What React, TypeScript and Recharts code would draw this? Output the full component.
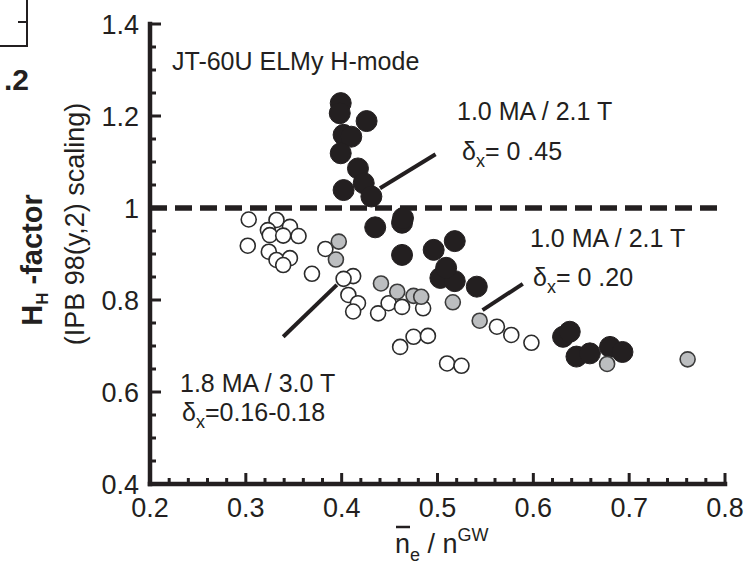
import { ScatterChart, Scatter, XAxis, YAxis, ReferenceLine } from 'recharts'

const ink = '#231f20'
const font = "'Liberation Sans', Arial, Helvetica, sans-serif"

// 1.0 MA / 2.1 T, delta_x = 0.45 (filled)
const blackDensity = [0.399, 0.398, 0.426, 0.402, 0.41, 0.399, 0.417, 0.402, 0.423, 0.431, 0.435, 0.463, 0.464, 0.463, 0.496, 0.518, 0.503, 0.518, 0.541, 0.509, 0.631, 0.638, 0.645, 0.659, 0.68, 0.693]
const blackHH = [1.228, 1.206, 1.189, 1.159, 1.155, 1.119, 1.086, 1.039, 1.054, 1.025, 0.958, 0.968, 0.978, 0.898, 0.909, 0.928, 0.848, 0.841, 0.829, 0.87, 0.72, 0.731, 0.677, 0.684, 0.698, 0.687]

// 1.0 MA / 2.1 T, delta_x = 0.20 (grey)
const greyDensity = [0.397, 0.394, 0.441, 0.458, 0.475, 0.483, 0.516, 0.544, 0.677, 0.761]
const greyHH = [0.927, 0.888, 0.836, 0.818, 0.809, 0.807, 0.795, 0.755, 0.661, 0.671]

// 1.8 MA / 3.0 T, delta_x = 0.16-0.18 (open)
const openDensity = [0.303, 0.332, 0.323, 0.346, 0.325, 0.339, 0.355, 0.302, 0.324, 0.332, 0.346, 0.339, 0.383, 0.369, 0.412, 0.402, 0.407, 0.417, 0.412, 0.438, 0.449, 0.463, 0.485, 0.461, 0.475, 0.49, 0.51, 0.525, 0.562, 0.577, 0.598]
const openHH = [0.975, 0.974, 0.952, 0.959, 0.941, 0.94, 0.939, 0.918, 0.905, 0.887, 0.891, 0.876, 0.911, 0.857, 0.852, 0.846, 0.811, 0.793, 0.775, 0.771, 0.793, 0.785, 0.782, 0.698, 0.72, 0.722, 0.662, 0.657, 0.742, 0.724, 0.707]

const xTicks = [0.2, 0.22, 0.24, 0.26, 0.28, 0.3, 0.32, 0.34, 0.36, 0.38, 0.4, 0.42, 0.44, 0.46, 0.48, 0.5, 0.52, 0.54, 0.56, 0.58, 0.6, 0.62, 0.64, 0.66, 0.68, 0.7, 0.72, 0.74, 0.76, 0.78, 0.8]
const xTickLabels = [0.2, 0.3, 0.4, 0.5, 0.6, 0.7, 0.8]
const yTicks = [0.4, 0.45, 0.5, 0.55, 0.6, 0.65, 0.7, 0.75, 0.8, 0.85, 0.9, 0.95, 1, 1.05, 1.1, 1.15, 1.2, 1.25, 1.3, 1.35, 1.4]
const yTickLabels = [0.4, 0.6, 0.8, 1, 1.2, 1.4]

// leader lines from the annotations to their groups
const leader45 = [{ x: 0.44, y: 1.043 }, { x: 0.498, y: 1.117 }]
const leader20 = [{ x: 0.547, y: 0.778 }, { x: 0.589, y: 0.835 }]
const leader18 = [{ x: 0.339, y: 0.72 }, { x: 0.395, y: 0.833 }]

const zip = (xs: number[], ys: number[]) => xs.map((x, i) => ({ x, y: ys[i] }))
const blackData = zip(blackDensity, blackHH)
const greyData = zip(greyDensity, greyHH)
const openData = zip(openDensity, openHH)

const isMajor = (v: number, labels: number[]) => labels.some(l => Math.abs(l - v) < 1e-6)

const tickText = { fontFamily: font, fontSize: 27, fill: ink }

const BottomTick = ({ x, y, payload }: any) => {
  const major = isMajor(payload.value, xTickLabels)
  return (
    <g>
      <line x1={x} x2={x} y1={y} y2={y - (major ? 11 : 6)} stroke={ink} strokeWidth={3} />
      {major && (
        <text x={x} y={y + 33} textAnchor="middle" {...tickText}>{String(payload.value)}</text>
      )}
    </g>
  )
}

const TopTick = ({ x, y, payload }: any) => {
  const major = isMajor(payload.value, xTickLabels)
  return <line x1={x} x2={x} y1={y} y2={y + (major ? 11 : 6)} stroke={ink} strokeWidth={3} />
}

const LeftTick = ({ x, y, payload }: any) => {
  const major = isMajor(payload.value, yTickLabels)
  return (
    <g>
      <line x1={x} x2={x + (major ? 11 : 6)} y1={y} y2={y} stroke={ink} strokeWidth={3} />
      {major && (
        <text x={x - 11} y={y + 10} textAnchor="end" {...tickText}>{String(payload.value)}</text>
      )}
    </g>
  )
}

const RightTick = ({ x, y, payload }: any) => {
  const major = isMajor(payload.value, yTickLabels)
  return <line x1={x} x2={x - (major ? 11 : 6)} y1={y} y2={y} stroke={ink} strokeWidth={3} />
}

const frame = { stroke: ink, strokeWidth: 4.5, strokeLinecap: 'square' as const }

const filledDot = (p: any) => <circle cx={p.cx} cy={p.cy} r={10.5} fill={ink} stroke={ink} strokeWidth={1} />
const greyDot = (p: any) => <circle cx={p.cx} cy={p.cy} r={7.5} fill="#bcbec0" stroke="#3b3b3b" strokeWidth={1.6} />
const openDot = (p: any) => <circle cx={p.cx} cy={p.cy} r={7.5} fill="#fff" stroke="#2b2b2b" strokeWidth={1.6} />

const annot = { fontFamily: font, fontSize: 25, fill: ink }

export default function App() {
  return (
    <div style={{ position: 'relative', width: 750, height: 573, background: '#fff' }}>
      <style>{`body{margin:0}`}</style>
      <ScatterChart width={750} height={573} margin={{ top: 24, right: 25, bottom: 0, left: 0 }}>
        <XAxis
          type="number"
          dataKey="x"
          domain={[0.2, 0.8]}
          ticks={xTicks}
          interval={0}
          height={89}
          tickSize={0}
          tickMargin={0}
          tickLine={false}
          axisLine={frame}
          tick={<BottomTick />}
          allowDataOverflow
        />
        <XAxis
          xAxisId="top"
          orientation="top"
          type="number"
          dataKey="x"
          domain={[0.2, 0.8]}
          ticks={xTicks}
          interval={0}
          height={0}
          tickSize={0}
          tickMargin={0}
          tickLine={false}
          axisLine={frame}
          tick={<TopTick />}
          allowDataOverflow
        />
        <YAxis
          type="number"
          dataKey="y"
          domain={[0.4, 1.4]}
          ticks={yTicks}
          interval={0}
          width={150}
          tickSize={0}
          tickMargin={0}
          tickLine={false}
          axisLine={frame}
          tick={<LeftTick />}
          allowDataOverflow
        />
        <YAxis
          yAxisId="right"
          orientation="right"
          type="number"
          dataKey="y"
          domain={[0.4, 1.4]}
          ticks={yTicks}
          interval={0}
          width={0}
          tickSize={0}
          tickMargin={0}
          tickLine={false}
          axisLine={frame}
          tick={<RightTick />}
          allowDataOverflow
        />
        <ReferenceLine y={1} stroke={ink} strokeWidth={5.5} strokeDasharray="17 8" />
        <ReferenceLine segment={leader45} stroke={ink} strokeWidth={4} />
        <ReferenceLine segment={leader20} stroke={ink} strokeWidth={4} />
        <ReferenceLine segment={leader18} stroke={ink} strokeWidth={4} />
        <Scatter data={openData} shape={openDot} isAnimationActive={false} />
        <Scatter data={blackData} shape={filledDot} isAnimationActive={false} />
        <Scatter data={greyData} shape={greyDot} isAnimationActive={false} />
      </ScatterChart>

      <svg width={750} height={573} style={{ position: 'absolute', left: 0, top: 0, pointerEvents: 'none' }}>
        {/* edge of the neighbouring panel */}
        <path d="M0 46 H27 V0 M18 22 H27" stroke={ink} strokeWidth={2} fill="none" />
        <text x={4} y={90} fontFamily={font} fontSize={30} fontWeight="bold" fill={ink}>.2</text>

        <text x={172} y={70} {...annot}>JT-60U ELMy H-mode</text>

        <text x={457} y={120} {...annot}>1.0 MA / 2.1 T</text>
        <text x={462} y={160} {...annot}>
          δ<tspan fontSize={18} dy={7}>x</tspan><tspan dy={-7}>= 0 .45</tspan>
        </text>

        <text x={530} y={247} {...annot}>1.0 MA / 2.1 T</text>
        <text x={533} y={286} {...annot}>
          δ<tspan fontSize={18} dy={7}>x</tspan><tspan dy={-7}>= 0 .20</tspan>
        </text>

        <text x={180} y={392} {...annot}>1.8 MA / 3.0 T</text>
        <text x={182} y={421} {...annot}>
          δ<tspan fontSize={18} dy={7}>x</tspan><tspan dy={-7}>=0.16-0.18</tspan>
        </text>

        <g transform="translate(42 260) rotate(-90)">
          <text textAnchor="middle" fontFamily={font} fontSize={29} fontWeight="bold" fill={ink}>
            H<tspan fontSize={17} dy={6}>H</tspan><tspan dy={-6}> -factor</tspan>
          </text>
        </g>
        <g transform="translate(84 224) rotate(-90)">
          <text textAnchor="middle" fontFamily={font} fontSize={27} fill={ink}>(IPB 98(y,2) scaling)</text>
        </g>

        <text x={395} y={553} fontFamily={font} fontSize={27} fill={ink}>
          n<tspan fontSize={18} dy={8}>e</tspan><tspan dy={-8}> / n</tspan><tspan fontSize={18} dy={-12}>GW</tspan>
        </text>
        <line x1={396} x2={410} y1={527} y2={527} stroke={ink} strokeWidth={2.5} />
      </svg>
    </div>
  )
}
